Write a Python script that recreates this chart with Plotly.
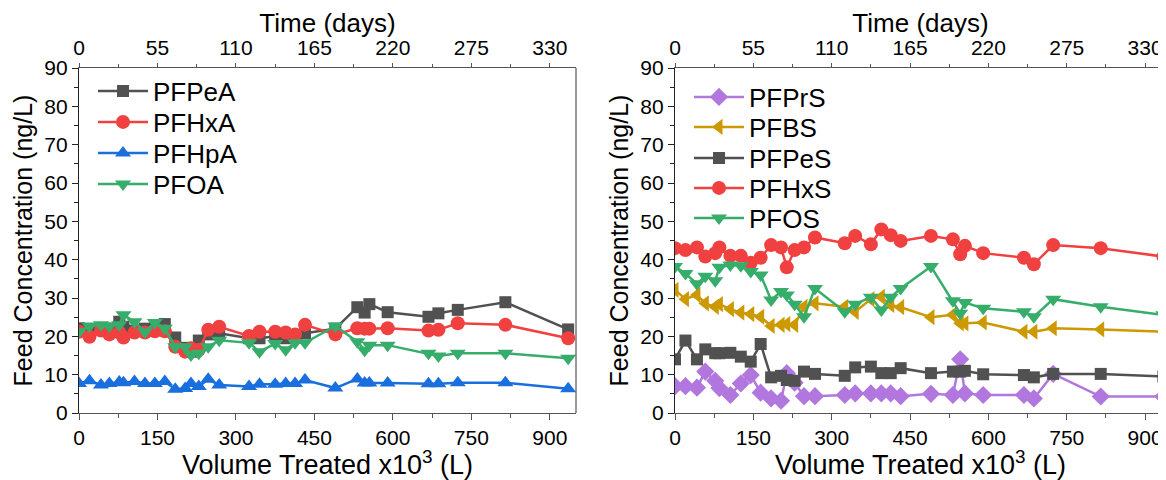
import plotly.graph_objects as go

# Shared sampling volumes (x10^3 L)
volume = [0, 20, 42, 58, 77, 85, 106, 126, 145, 164, 184, 203, 214, 229, 247, 268,
          325, 345, 375, 395, 413, 432, 490, 532, 546, 555, 590, 668, 687, 724, 815, 935]

# Left panel (carboxylates), ng/L
pfpea = [22.1, 21.5, 22.0, 22.0, 23.8, 22.5, 21.5, 22.0, 22.0, 23.2, 19.7, 17.0, 16.0, 18.9, 20.5, 20.8,
         19.5, 19.5, 20.0, 19.5, 20.0, 20.8, 22.0, 27.6, 26.2, 28.4, 26.3, 25.1, 26.0, 26.9, 28.9, 21.8]
pfhxa = [21.2, 19.9, 21.5, 20.5, 21.0, 19.7, 21.0, 21.0, 21.3, 21.3, 17.3, 16.0, 16.9, 16.5, 21.7, 22.5,
         20.1, 21.2, 21.2, 21.0, 20.5, 23.0, 20.5, 22.1, 22.0, 22.0, 22.1, 21.5, 21.7, 23.4, 23.0, 19.5]
pfhpa = [7.7, 8.4, 7.3, 7.7, 8.1, 7.9, 8.2, 7.7, 7.7, 8.2, 6.2, 6.4, 7.7, 6.9, 8.8, 7.3,
         6.9, 7.5, 7.5, 7.7, 7.7, 8.6, 6.5, 8.9, 7.8, 7.8, 7.8, 7.6, 7.6, 7.9, 7.9, 6.3]
pfoa = [21.2, 22.7, 23.0, 22.7, 23.0, 25.6, 23.8, 21.2, 23.6, 22.1, 17.3, 17.3, 15.1, 15.6, 17.3, 19.0,
        18.3, 16.0, 18.1, 16.5, 18.3, 18.3, 22.7, 18.6, 16.4, 17.7, 17.7, 15.6, 14.9, 15.6, 15.6, 14.3]

# Right panel (sulfonates), ng/L
pfprs = [7.0, 7.0, 6.6, 10.8, 8.4, 6.5, 4.7, 7.7, 9.9, 5.3, 3.8, 3.2, 10.4, 7.9, 4.4, 4.4,
         4.7, 5.1, 5.1, 5.1, 5.1, 4.4, 5.0, 4.7, 14.0, 5.1, 4.7, 4.7, 3.8, 10.2, 4.3, 4.3]
pfbs = [32.1, 29.7, 30.8, 28.6, 27.7, 28.4, 27.1, 26.2, 25.8, 25.1, 22.7, 23.0, 23.2, 23.0, 27.7, 28.6,
        27.7, 26.4, 29.7, 30.3, 28.2, 27.6, 25.0, 25.6, 23.4, 23.4, 23.6, 21.2, 21.2, 22.1, 21.8, 21.2]
pfpes = [14.0, 18.9, 14.0, 16.6, 15.6, 15.6, 15.7, 14.7, 13.4, 18.0, 9.3, 9.7, 8.6, 8.4, 10.8, 10.2,
         9.7, 11.9, 12.1, 10.4, 10.4, 11.7, 10.4, 10.8, 10.8, 11.0, 10.1, 9.9, 9.3, 10.2, 10.2, 9.5]
pfhxs = [43.0, 42.5, 43.2, 40.8, 41.7, 43.2, 41.0, 41.0, 39.2, 40.5, 43.8, 43.2, 38.0, 42.5, 43.2, 45.8,
         44.3, 46.2, 44.0, 47.9, 46.4, 44.9, 46.2, 45.3, 41.4, 43.6, 41.7, 40.5, 38.8, 43.8, 43.0, 40.8]
pfos = [38.2, 36.4, 33.7, 35.7, 34.5, 38.0, 38.6, 38.4, 36.9, 36.0, 29.5, 31.7, 30.8, 28.4, 25.1, 32.5,
        26.4, 28.4, 30.2, 26.9, 30.2, 32.5, 38.2, 29.3, 26.0, 28.8, 27.3, 26.4, 25.1, 29.7, 27.7, 25.6]

vol_ticks = [0, 150, 300, 450, 600, 750, 900]
day_ticks = [0, 55, 110, 165, 220, 275, 330]
DAYS_PER_VOL = 330 / 900

FONT = "Liberation Sans, Arial, sans-serif"
C_BLACK, C_RED, C_BLUE, C_GREEN, C_PURPLE, C_GOLD = "#515151", "#F14040", "#1A6FDF", "#37AD6B", "#B177DE", "#CC9900"

# page body has an 8px margin: figure is offset by 8px inside the 1166x480 window
W, H, OFF = 1158, 472, 8
def px(x):
    return (x - OFF) / W
def py(y):
    return 1 - (y - OFF) / H

fig = go.Figure()
legends = {}
LEG_FONT = dict(family=FONT, size=26, color="black")

def add(name, y, color, symbol, xa, ya, leg_x, leg_y, size=14):
    key = "legend" if not legends else "legend%d" % (len(legends) + 1)
    legends[key] = dict(x=px(leg_x), y=py(leg_y), xanchor="left", yanchor="middle",
                        bgcolor="rgba(0,0,0,0)", font=LEG_FONT, itemwidth=50)
    fig.add_trace(go.Scatter(
        x=volume, y=y, name=name, mode="lines+markers",
        line=dict(color=color, width=2.5),
        marker=dict(color=color, symbol=symbol, size=size),
        xaxis=xa, yaxis=ya, legend=key))

LX, RX = 93, 689
add("PFPeA", pfpea, C_BLACK, "square", "x", "y", LX, 91, 12)
add("PFHxA", pfhxa, C_RED, "circle", "x", "y", LX, 122)
add("PFHpA", pfhpa, C_BLUE, "triangle-up", "x", "y", LX, 153)
add("PFOA", pfoa, C_GREEN, "triangle-down", "x", "y", LX, 184)

add("PFPrS", pfprs, C_PURPLE, "diamond", "x2", "y2", RX, 97)
add("PFBS", pfbs, C_GOLD, "triangle-left", "x2", "y2", RX, 127)
add("PFPeS", pfpes, C_BLACK, "square", "x2", "y2", RX, 158, 12)
add("PFHxS", pfhxs, C_RED, "circle", "x2", "y2", RX, 188)
add("PFOS", pfos, C_GREEN, "triangle-down", "x2", "y2", RX, 218)

# invisible traces to anchor the top (time) axes
for xa, ya in (("x3", "y"), ("x4", "y2")):
    fig.add_trace(go.Scatter(x=[0], y=[None], xaxis=xa, yaxis=ya, showlegend=False,
                             hoverinfo="skip", mode="markers", marker=dict(opacity=0)))

L_RANGE = [0, 950]
R_RANGE = [0, 940]
L_DOM = [px(79), px(576)]
R_DOM = [px(675), 1.0]
Y_DOM = [py(413), py(68)]

tickfont = dict(family=FONT, size=21, color="black")
titlefont = dict(family=FONT, size=27, color="black")
toptitlefont = dict(family=FONT, size=26, color="black")
ytitlefont = dict(family=FONT, size=25, color="black")

def xbottom(dom, rng, anchor):
    return dict(domain=dom, range=rng, anchor=anchor, tickvals=vol_ticks, ticks="outside",
                ticklen=6, tickwidth=1.2, tickcolor="#555", showline=True, linecolor="#555",
                linewidth=1.2, mirror=False, showgrid=False, zeroline=False, tickfont=tickfont,
                automargin=False,
                title=dict(text="Volume Treated x10<sup>3</sup> (L)", font=titlefont, standoff=0),
                minor=dict(dtick=75, ticks="outside", ticklen=4, tickcolor="#555", showgrid=False))

def xtop(rng, overlay):
    r = [rng[0] * DAYS_PER_VOL, rng[1] * DAYS_PER_VOL]
    return dict(overlaying=overlay, side="top", range=r, tickvals=day_ticks, ticks="outside",
                ticklen=4, tickwidth=1.2, tickcolor="#555", showline=True, linecolor="#555",
                linewidth=1.2, showgrid=False, zeroline=False, tickfont=tickfont,
                automargin=False,
                title=dict(text="Time (days)", font=toptitlefont, standoff=7),
                minor=dict(dtick=27.5, ticks="outside", ticklen=3, tickcolor="#555", showgrid=False))

def yaxis(anchor):
    return dict(domain=Y_DOM, range=[0, 90], anchor=anchor, dtick=10, ticks="outside",
                ticklen=6, tickwidth=1.2, tickcolor="#222", showline=True, linecolor="#222",
                linewidth=1.4, mirror=False, showgrid=False, zeroline=False, tickfont=tickfont,
                automargin=False,
                title=dict(text="Feed Concentration (ng/L)", font=ytitlefont, standoff=4),
                minor=dict(dtick=5, ticks="outside", ticklen=4, tickcolor="#222", showgrid=False))

fig.update_layout(
    width=W, height=H, margin=dict(l=0, r=0, t=0, b=0, autoexpand=False),
    paper_bgcolor="white", plot_bgcolor="white", showlegend=True,
    font=dict(family=FONT, color="black"),
    xaxis=xbottom(L_DOM, L_RANGE, "y"),
    xaxis2=xbottom(R_DOM, R_RANGE, "y2"),
    xaxis3=xtop(L_RANGE, "x"),
    xaxis4=xtop(R_RANGE, "x2"),
    yaxis=yaxis("x"),
    yaxis2=yaxis("x2"),
    **legends,
)

# right border line of left panel
fig.add_shape(type="line", xref="paper", yref="paper", x0=L_DOM[1], x1=L_DOM[1],
              y0=Y_DOM[0], y1=Y_DOM[1], line=dict(color="#555", width=1.2))

fig.write_html("out.html")
